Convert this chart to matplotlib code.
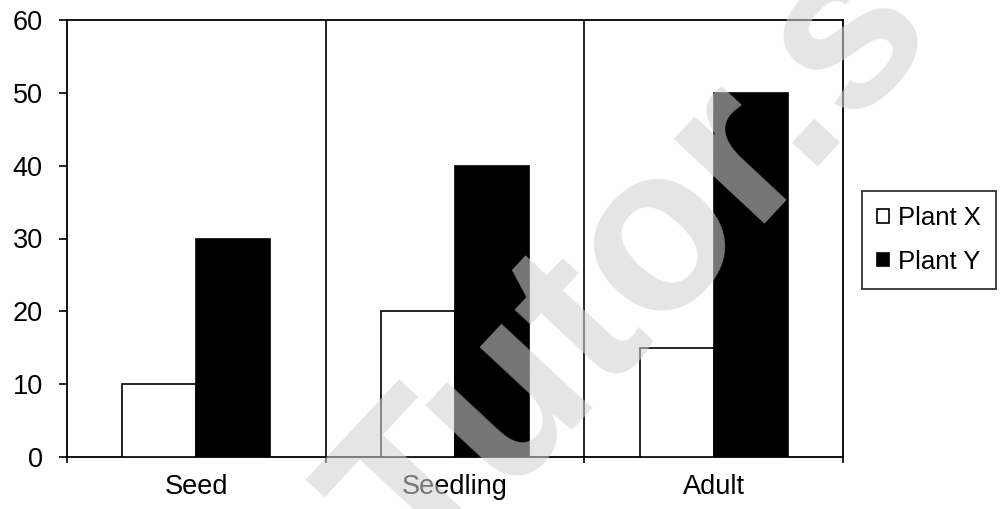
import matplotlib
matplotlib.use("Agg")
import matplotlib.pyplot as plt
import numpy as np
from matplotlib.patches import Patch

plt.rcParams['font.family'] = ['Liberation Sans', 'DejaVu Sans']

stages = ["Seed", "Seedling", "Adult"]
plant_x = [10, 20, 15]
plant_y = [30, 40, 50]
series_names = ["Plant X", "Plant Y"]
y_ticks = [0, 10, 20, 30, 40, 50, 60]

fig = plt.figure(figsize=(10.01, 5.09), dpi=100)
ax = fig.add_axes([67 / 1001, 52 / 509, (843 - 67) / 1001, (457 - 20) / 509])

pos = np.arange(len(stages))
w = 0.286
ax.bar(pos - w / 2, plant_x, width=w, facecolor="white", edgecolor="black", linewidth=1.2, zorder=3)
ax.bar(pos + w / 2, plant_y, width=w, facecolor="black", edgecolor="black", linewidth=1.2, zorder=3)

ax.set_xlim(-0.5, len(stages) - 0.5)
ax.set_ylim(0, 60)
ax.set_yticks(y_ticks)
ax.set_yticklabels([str(v) for v in y_ticks], fontsize=19.5)

# category boundaries: separator lines and tick marks
bounds = np.arange(len(stages) + 1) - 0.5
for b in bounds[1:-1]:
    ax.axvline(b, color="black", linewidth=1.2, zorder=2)
ax.set_xticks(bounds)
ax.set_xticklabels([""] * len(bounds))
ax.set_xticks(pos, minor=True)
ax.set_xticklabels(stages, minor=True, fontsize=19.5)
ax.tick_params(axis="x", which="minor", length=0, pad=12.5)
ax.tick_params(axis="x", which="major", length=4, width=1.2, direction="out")
ax.tick_params(axis="y", length=6, width=1.2, direction="out", pad=11.5)

for s in ax.spines.values():
    s.set_linewidth(1.3)
    s.set_color("black")

handles = [Patch(facecolor="white", edgecolor="black", linewidth=1.2),
           Patch(facecolor="black", edgecolor="black", linewidth=1.2)]
leg = fig.legend(handles, series_names, loc="upper left",
                 bbox_to_anchor=(862 / 1001, 1 - 191 / 509), fontsize=18.5,
                 frameon=True, fancybox=False, edgecolor="black",
                 handlelength=0.45, handleheight=0.45, handletextpad=0.35,
                 borderpad=0.6, labelspacing=0.75, borderaxespad=0)
leg.get_frame().set_linewidth(1.3)

# watermark
fig.text(421 / 1001, 1 - 590 / 509, "Tutor.s", fontsize=168, fontweight="bold",
         color="#d2d2d2", alpha=0.57, rotation=47, rotation_mode="anchor",
         ha="left", va="baseline", zorder=10)

fig.savefig("out.png", dpi=100)
